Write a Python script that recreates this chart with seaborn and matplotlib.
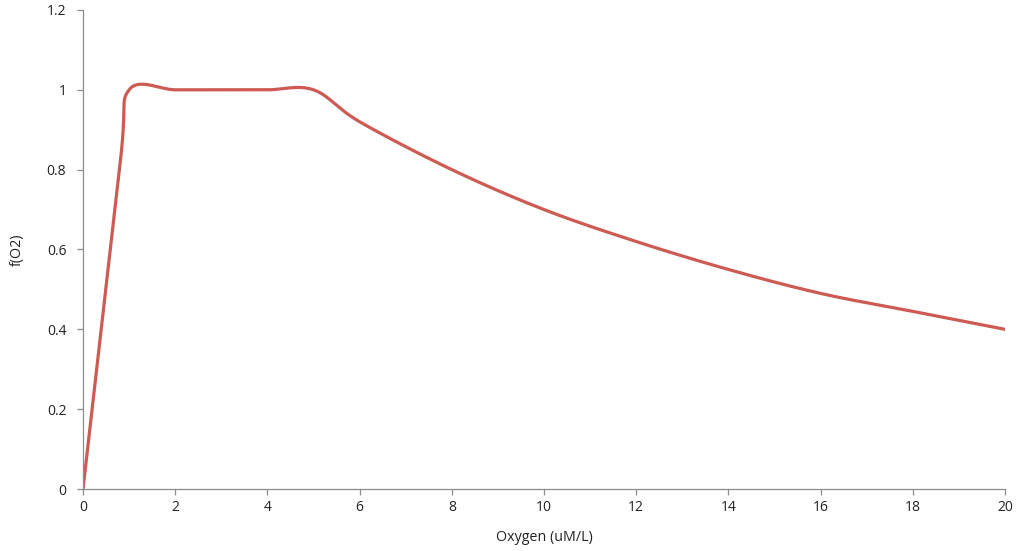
import numpy as np
import pandas as pd
import matplotlib
matplotlib.use("Agg")
import matplotlib.pyplot as plt
import seaborn as sns

# points
oxygen = [0, 0.8, 1, 2, 3, 4, 5, 6, 8, 10, 12, 14, 16, 18, 20]
f_o2 = [0, 0.81, 1, 1, 1, 1, 1, 0.92, 0.80, 0.70, 0.62, 0.55, 0.49, 0.445, 0.40]


def smooth(xs, ys, n=40):
    # spreadsheet-style smoothed line (cubic bezier, tension 1/6)
    p = np.column_stack([xs, ys]).astype(float)
    out = []
    for i in range(len(p) - 1):
        p0 = p[i - 1] if i > 0 else p[i]
        p1, p2 = p[i], p[i + 1]
        p3 = p[i + 2] if i + 2 < len(p) else p[i + 1]
        c1 = p1 + (p2 - p0) / 6
        c2 = p2 - (p3 - p1) / 6
        t = np.linspace(0, 1, n)[:, None]
        seg = (1 - t) ** 3 * p1 + 3 * (1 - t) ** 2 * t * c1 + 3 * (1 - t) * t ** 2 * c2 + t ** 3 * p2
        out.append(seg if i == 0 else seg[1:])
    return np.vstack(out)


curve = smooth(oxygen, f_o2)
df = pd.DataFrame({"Oxygen": curve[:, 0], "f": curve[:, 1]})

sns.set_style("white")
plt.rcParams["font.family"] = ["Open Sans", "DejaVu Sans"]

fig = plt.figure(figsize=(10.2, 5.51), dpi=100)
ax = fig.add_axes([0.0814, 0.1125, 0.9039, 0.8694])

sns.lineplot(data=df, x="Oxygen", y="f", sort=False, estimator=None,
             color="#CD5B54", linewidth=2.3, ax=ax)

ax.set_xlim(0, 20)
ax.set_ylim(0, 1.2)
ax.set_xticks(range(0, 21, 2))
ax.set_yticks([0, 0.2, 0.4, 0.6, 0.8, 1, 1.2])
ax.set_yticklabels(["0", "0.2", "0.4", "0.6", "0.8", "1", "1.2"])
ax.set_xlabel("Oxygen (uM/L)", fontsize=10.3, color="#222222", labelpad=11)
ax.set_ylabel("f(O2)", fontsize=10.3, color="#222222", labelpad=16)

for s in ["top", "right"]:
    ax.spines[s].set_visible(False)
for s in ["left", "bottom"]:
    ax.spines[s].set_color("#8c8c8c")
    ax.spines[s].set_linewidth(0.9)
ax.tick_params(axis="both", direction="out", length=4, width=0.9, color="#8c8c8c",
               labelsize=10, labelcolor="#222222", bottom=True, left=True)
ax.tick_params(axis="x", pad=4)
ax.tick_params(axis="y", pad=8)

fig.savefig("out.png", dpi=100)
